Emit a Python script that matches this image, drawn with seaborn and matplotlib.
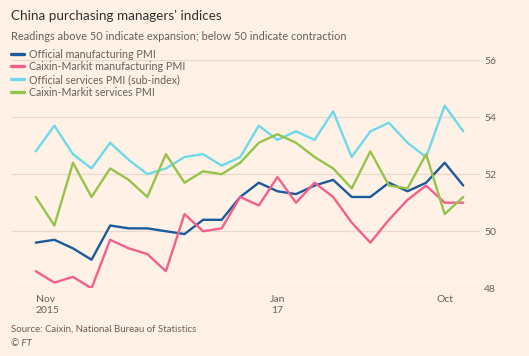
import numpy as np
import pandas as pd
import seaborn as sns
import matplotlib.pyplot as plt

# monthly readings, Nov 2015 - Oct 2017
months = pd.period_range("2015-11", "2017-10", freq="M").strftime("%b %Y")
official_mfg = [49.6, 49.7, 49.4, 49.0, 50.2, 50.1, 50.1, 50.0, 49.9, 50.4, 50.4, 51.2,
                51.7, 51.4, 51.3, 51.6, 51.8, 51.2, 51.2, 51.7, 51.4, 51.7, 52.4, 51.6]
caixin_mfg = [48.6, 48.2, 48.4, 48.0, 49.7, 49.4, 49.2, 48.6, 50.6, 50.0, 50.1, 51.2,
              50.9, 51.9, 51.0, 51.7, 51.2, 50.3, 49.6, 50.4, 51.1, 51.6, 51.0, 51.0]
official_srv = [52.8, 53.7, 52.7, 52.2, 53.1, 52.5, 52.0, 52.2, 52.6, 52.7, 52.3, 52.6,
                53.7, 53.2, 53.5, 53.2, 54.2, 52.6, 53.5, 53.8, 53.1, 52.6, 54.4, 53.5]
caixin_srv = [51.2, 50.2, 52.4, 51.2, 52.2, 51.8, 51.2, 52.7, 51.7, 52.1, 52.0, 52.4,
              53.1, 53.4, 53.1, 52.6, 52.2, 51.5, 52.8, 51.6, 51.5, 52.7, 50.6, 51.2]

series_names = ["Official manufacturing PMI", "Caixin-Markit manufacturing PMI",
                "Official services PMI (sub-index)", "Caixin-Markit services PMI"]
colors = ["#1B5A9B", "#F2608E", "#6ED9E9", "#96C34A"]
tick_pos = [0, 13, 22]
tick_text = ["Nov\n2015", "Jan\n17", "Oct"]

df = pd.DataFrame({"month": months, "idx": np.arange(len(months))})
for name, vals in zip(series_names, [official_mfg, caixin_mfg, official_srv, caixin_srv]):
    df[name] = vals
df = df.melt(id_vars=["month", "idx"], var_name="series", value_name="pmi")

bg = "#FFF1E5"
grey = "#66605C"
gridc = "#E6D9CE"

sns.set_theme(style="white")
plt.rcParams["font.family"] = ["Lato", "DejaVu Sans"]

fig = plt.figure(figsize=(5.29, 3.56), dpi=100, facecolor=bg)
ax = fig.add_axes([12 / 529, 1 - 288.3 / 356, 468 / 529, 228.3 / 356])
ax.set_facecolor(bg)

sns.lineplot(data=df, x="idx", y="pmi", hue="series", hue_order=series_names,
             palette=colors, linewidth=1.7, ax=ax)

ax.set_xlim(-1.28, 23.9)
ax.set_ylim(48, 56)
ax.set_yticks([48, 50, 52, 54, 56])
ax.yaxis.tick_right()
ax.grid(axis="y", color=gridc, linewidth=0.9)
ax.set_axisbelow(True)
for s in ax.spines.values():
    s.set_visible(False)

labels = [""] * 23
for p, t in zip(tick_pos, tick_text):
    labels[p] = t
ax.set_xticks(range(23))
ax.set_xticklabels(labels)
ax.get_xticklabels()[0].set_ha("left")
ax.tick_params(axis="x", length=3, color=gridc, width=0.9, labelsize=7.5,
               labelcolor=grey, pad=2)
ax.tick_params(axis="y", length=0, pad=3, labelsize=7.5, labelcolor=grey)
ax.set_xlabel("")
ax.set_ylabel("")

handles, labs = ax.get_legend_handles_labels()
leg = ax.legend(handles, labs, loc="upper left", bbox_to_anchor=(11 / 529, 1 - 48.5 / 356),
                bbox_transform=fig.transFigure, frameon=False, fontsize=7.7,
                handlelength=1.2, handletextpad=0.5, labelspacing=0.16,
                borderpad=0, borderaxespad=0, labelcolor=grey)
for h in leg.get_lines():
    h.set_linewidth(2.4)

fig.text(11 / 529, 1 - 20.5 / 356, "China purchasing managers' indices",
         fontsize=9.7, color="#33302E", va="baseline")
fig.text(11 / 529, 1 - 40 / 356, "Readings above 50 indicate expansion; below 50 indicate contraction",
         fontsize=7.9, color=grey, va="baseline")
fig.text(11 / 529, 1 - 331.5 / 356, "Source: Caixin, National Bureau of Statistics",
         fontsize=6.9, color=grey, va="baseline")
fig.text(11 / 529, 1 - 346 / 356, "\u00a9 FT", fontsize=7, color=grey,
         style="italic", va="baseline")

fig.savefig("out.png", dpi=100, facecolor=bg)
